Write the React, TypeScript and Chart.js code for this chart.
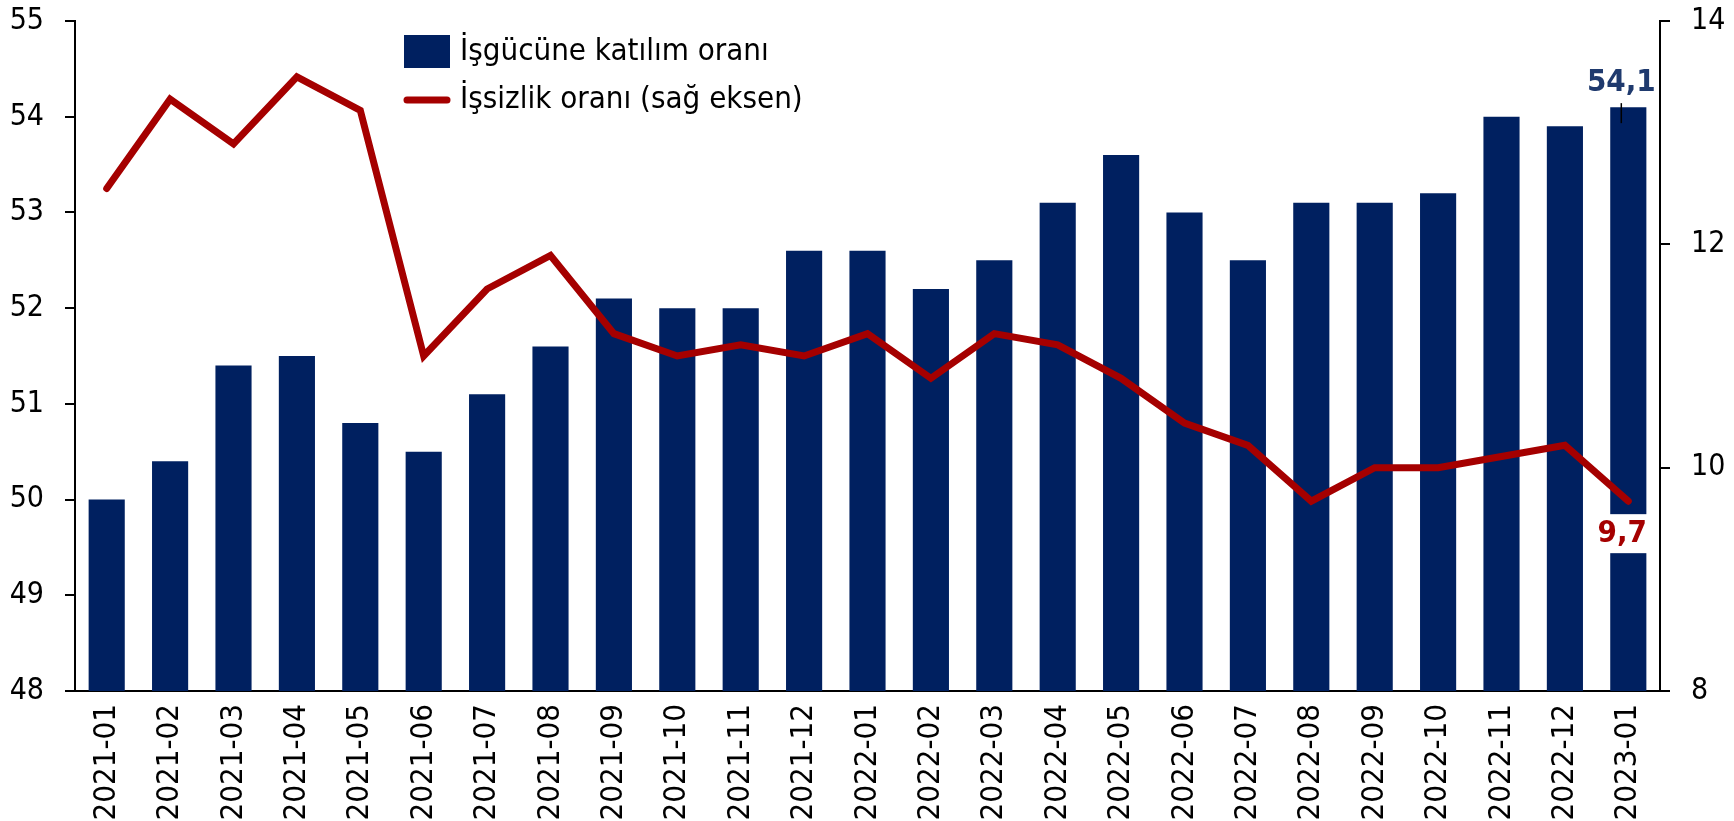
import React, { useEffect, useRef } from "react";
import { Chart, registerables } from "chart.js";

Chart.register(...registerables);

const categories = [
  "2021-01", "2021-02", "2021-03", "2021-04", "2021-05", "2021-06", "2021-07", "2021-08",
  "2021-09", "2021-10", "2021-11", "2021-12", "2022-01", "2022-02", "2022-03", "2022-04",
  "2022-05", "2022-06", "2022-07", "2022-08", "2022-09", "2022-10", "2022-11", "2022-12", "2023-01",
];

const participation = [
  50.0, 50.4, 51.4, 51.5, 50.8, 50.5, 51.1, 51.6,
  52.1, 52.0, 52.0, 52.6, 52.6, 52.2, 52.5, 53.1,
  53.6, 53.0, 52.5, 53.1, 53.1, 53.2, 54.0, 53.9, 54.1,
];

const unemployment = [
  12.5, 13.3, 12.9, 13.5, 13.2, 11.0, 11.6, 11.9,
  11.2, 11.0, 11.1, 11.0, 11.2, 10.8, 11.2, 11.1,
  10.8, 10.4, 10.2, 9.7, 10.0, 10.0, 10.1, 10.2, 9.7,
];

const seriesLabels = ["İşgücüne katılım oranı", "İşsizlik oranı (sağ eksen)"];
const lastLabels = ["54,1", "9,7"];

const NAVY = "#002060";
const RED = "#A50000";
const LABEL_BLUE = "#1F3A6E";
const FONT = '"DejaVu Sans Condensed", "DejaVu Sans", sans-serif';

const overlayPlugin = {
  id: "overlay",
  afterDatasetsDraw(chart: any) {
    const ctx = chart.ctx;
    const x = chart.scales.x;
    const yl = chart.scales.y;
    const yr = chart.scales.y1;
    const last = categories.length - 1;
    const cx = x.getPixelForValue(last);
    ctx.save();
    const yLine = yr.getPixelForValue(unemployment[last]);
    ctx.fillStyle = "#ffffff";
    ctx.fillRect(cx - 20, yLine + 13, 40, 39);
    ctx.font = `bold 31px ${FONT}`;
    ctx.textAlign = "center";
    ctx.textBaseline = "middle";
    ctx.fillStyle = RED;
    ctx.fillText(lastLabels[1], cx - 6, yLine + 33);
    const yBar = yl.getPixelForValue(participation[last]);
    ctx.fillStyle = LABEL_BLUE;
    ctx.fillText(lastLabels[0], cx - 7, yBar - 24);
    ctx.strokeStyle = "#000";
    ctx.lineWidth = 1.5;
    ctx.beginPath();
    ctx.moveTo(cx - 7, yBar - 4);
    ctx.lineTo(cx - 7, yBar + 16);
    ctx.stroke();
    ctx.restore();
  },
  afterDraw(chart: any) {
    const ctx = chart.ctx;
    ctx.save();
    ctx.fillStyle = NAVY;
    ctx.fillRect(404, 35, 46, 33);
    ctx.strokeStyle = RED;
    ctx.lineWidth = 7;
    ctx.lineCap = "round";
    ctx.beginPath();
    ctx.moveTo(407, 100);
    ctx.lineTo(447, 100);
    ctx.stroke();
    ctx.fillStyle = "#000";
    ctx.font = `31px ${FONT}`;
    ctx.textAlign = "left";
    ctx.textBaseline = "middle";
    ctx.fillText(seriesLabels[0], 460, 52);
    ctx.fillText(seriesLabels[1], 460, 100);
    ctx.restore();
  },
};

const fitY = (w: number) => (s: any) => {
  s.width = w;
  s.paddingTop = 0;
  s.paddingBottom = 0;
};

export default function App() {
  const ref = useRef<HTMLCanvasElement | null>(null);

  useEffect(() => {
    if (!ref.current) return;
    Chart.defaults.font.family = FONT;
    const chart = new Chart(ref.current, {
      type: "bar",
      data: {
        labels: categories,
        datasets: [
          {
            type: "line",
            label: seriesLabels[1],
            data: unemployment,
            yAxisID: "y1",
            borderColor: RED,
            backgroundColor: RED,
            borderWidth: 7,
            pointRadius: 0,
            tension: 0,
            borderCapStyle: "round",
            borderJoinStyle: "miter",
            order: 0,
          } as any,
          {
            type: "bar",
            label: seriesLabels[0],
            data: participation,
            yAxisID: "y",
            backgroundColor: NAVY,
            borderWidth: 0,
            barPercentage: 0.57,
            categoryPercentage: 1,
            order: 1,
          },
        ],
      },
      options: {
        animation: false,
        responsive: true,
        maintainAspectRatio: false,
        layout: { padding: { top: 21, left: 0, right: 0, bottom: 0 } },
        plugins: {
          legend: { display: false },
          tooltip: { enabled: false },
        },
        scales: {
          x: {
            grid: { display: false, drawTicks: false },
            border: { display: true, color: "#000", width: 2 },
            ticks: {
              color: "#000",
              font: { size: 31 },
              minRotation: 90,
              maxRotation: 90,
              padding: 13,
              autoSkip: false,
            },
            afterFit: (s: any) => {
              s.height = 130;
              s.paddingLeft = 0;
              s.paddingRight = 0;
            },
          },
          y: {
            position: "left",
            min: 48,
            max: 55,
            grid: { drawOnChartArea: false, drawTicks: true, tickLength: 10, color: "#000", lineWidth: 2 },
            border: { display: true, color: "#000", width: 2 },
            ticks: { stepSize: 1, color: "#000", font: { size: 30 }, padding: 21 },
            afterFit: fitY(75),
          },
          y1: {
            position: "right",
            min: 8,
            max: 14,
            grid: { drawOnChartArea: false, drawTicks: true, tickLength: 10, color: "#000", lineWidth: 2 },
            border: { display: true, color: "#000", width: 2 },
            ticks: { stepSize: 2, color: "#000", font: { size: 30 }, padding: 21 },
            afterFit: fitY(74),
          },
        },
      },
      plugins: [overlayPlugin],
    });
    return () => chart.destroy();
  }, []);

  return (
    <div style={{ position: "fixed", left: 0, top: 0, width: 1734, height: 821, background: "#fff" }}>
      <canvas ref={ref} />
    </div>
  );
}
